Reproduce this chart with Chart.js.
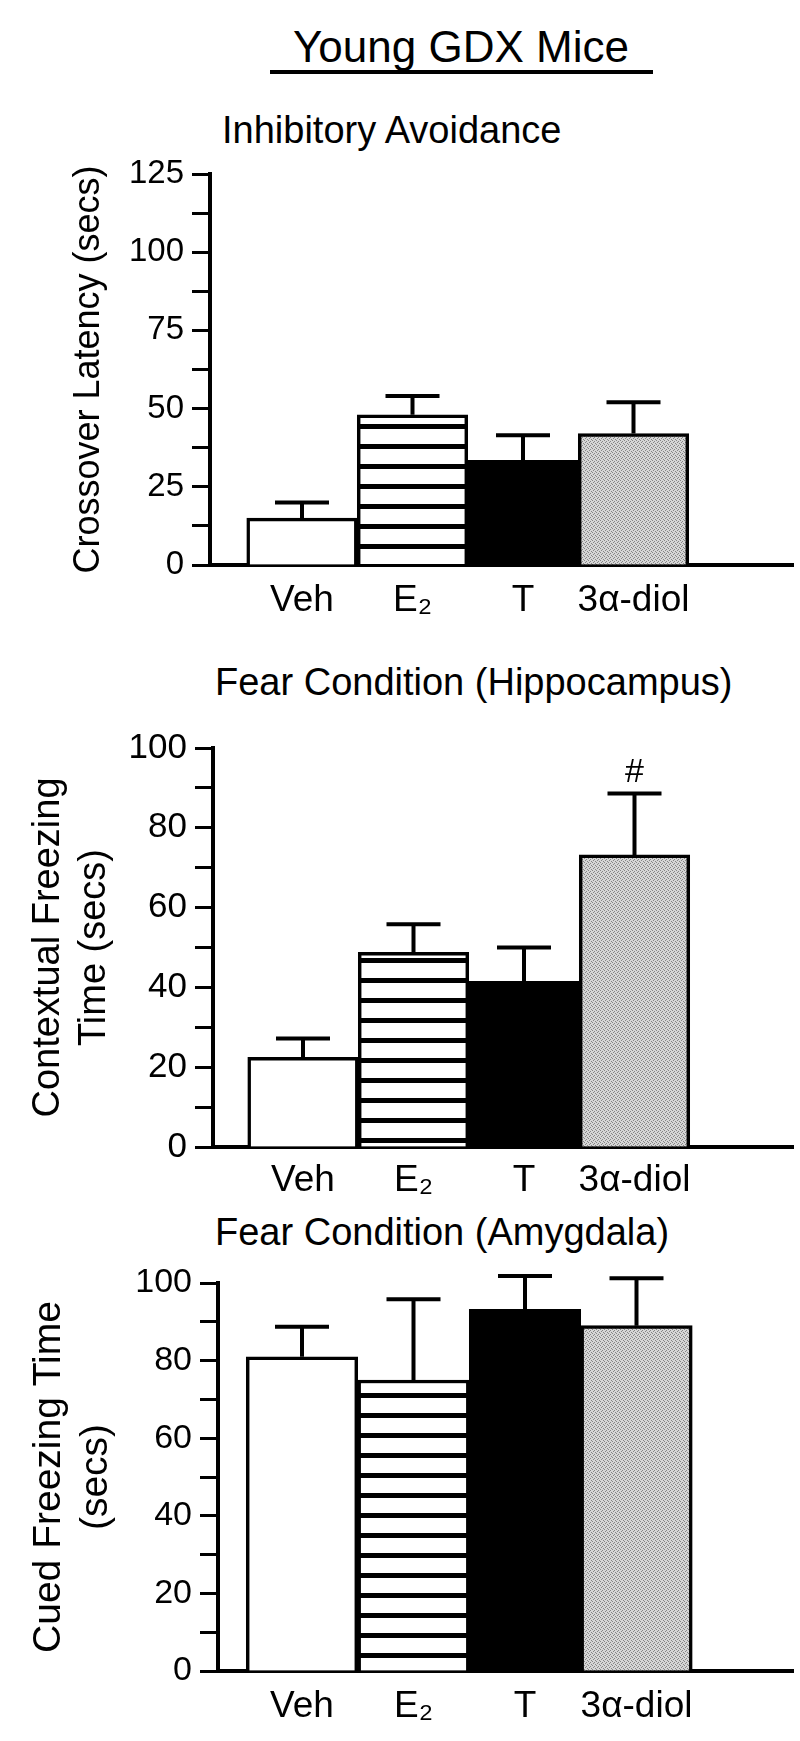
<!DOCTYPE html>
<html>
<head>
<meta charset="utf-8">
<script src="https://cdn.jsdelivr.net/npm/chart.js@4.4.1/dist/chart.umd.min.js"></script>
<style>
html,body{margin:0;padding:0;background:#fff;}
#page{position:relative;width:800px;height:1741px;overflow:hidden;background:#fff;
  font-family:"Liberation Sans",Arial,Helvetica,sans-serif;color:#000;}
.t{position:absolute;white-space:nowrap;line-height:1;}
canvas{position:absolute;left:0;}
</style>
</head>
<body>
<div id="page">
  <div class="t" style="left:261px;width:400px;text-align:center;top:25px;font-size:44px;">Young GDX Mice</div>
  <div style="position:absolute;left:270px;top:70px;width:383px;height:4px;background:#000;"></div>
  <div class="t" style="left:222px;top:111px;font-size:38px;">Inhibitory Avoidance</div>
  <div class="t" style="left:215px;top:663px;font-size:38px;">Fear Condition (Hippocampus)</div>
  <div class="t" style="left:215px;top:1213px;font-size:38px;">Fear Condition (Amygdala)</div>
  <canvas id="c1" width="800" height="491" style="top:144px;"></canvas>
  <canvas id="c2" width="800" height="499" style="top:718px;"></canvas>
  <canvas id="c3" width="800" height="488" style="top:1253px;"></canvas>
</div>
<script>
// ---- data ----
const categories = ['Veh', 'E\u2082', 'T', '3\u03b1-diol'];

const avoidanceMeans = [15, 48, 33.5, 42];
const avoidanceSEM   = [5, 6, 8, 10];
const avoidanceMarks = ['', '', '', ''];
const avoidanceTickLabels = [0, 25, 50, 75, 100, 125];

const contextualMeans = [22.5, 48.8, 41.5, 73.2];
const contextualSEM   = [4.7, 7, 8.5, 15.4];
const contextualMarks = ['', '', '', '#'];
const contextualTickLabels = [0, 20, 40, 60, 80, 100];

const cuedMeans = [81, 75, 93.2, 89];
const cuedSEM   = [7.7, 20.8, 8.6, 12.2];
const cuedMarks = ['', '', '', ''];
const cuedTickLabels = [0, 20, 40, 60, 80, 100];

// ---- styling helpers ----
const FONT = '"Liberation Sans", Arial, Helvetica, sans-serif';

function stripePattern() {
  const c = document.createElement('canvas');
  c.width = 8; c.height = 20;
  const g = c.getContext('2d');
  g.fillStyle = '#fff'; g.fillRect(0, 0, 8, 20);
  g.fillStyle = '#000'; g.fillRect(0, 0, 8, 5);
  return g.createPattern(c, 'repeat');
}
function stipplePattern() {
  const c = document.createElement('canvas');
  c.width = 4; c.height = 4;
  const g = c.getContext('2d');
  g.fillStyle = '#d6d6d6'; g.fillRect(0, 0, 4, 4);
  g.fillStyle = '#858585';
  [[0,0],[2,1],[1,2],[3,3]].forEach(([x,y]) => g.fillRect(x, y, 1, 1));
  return g.createPattern(c, 'repeat');
}

function errorPlugin(means, errs, marks) {
  return {
    id: 'errorBars',
    afterDatasetsDraw(chart) {
      const meta = chart.getDatasetMeta(0);
      const y = chart.scales.y;
      const c = chart.ctx;
      c.save();
      c.strokeStyle = '#000';
      c.lineWidth = 4;
      meta.data.forEach((bar, i) => {
        const top = y.getPixelForValue(means[i] + errs[i]);
        const base = y.getPixelForValue(means[i]);
        c.beginPath();
        c.moveTo(bar.x, base); c.lineTo(bar.x, top);
        c.moveTo(bar.x - 27, top); c.lineTo(bar.x + 27, top);
        c.stroke();
        if (marks[i]) {
          c.fillStyle = '#000';
          c.font = '34px ' + FONT;
          c.textAlign = 'center';
          c.textBaseline = 'bottom';
          c.fillText(marks[i], bar.x, top - 4);
        }
      });
      c.restore();
    }
  };
}

function makePanel(id, p) {
  const fills = ['#ffffff', stripePattern(), '#000000', stipplePattern()];
  const xMin = 1 - (p.firstCenter - p.axisX) / p.unit;
  const xMax = xMin + (793 - p.axisX) / p.unit;
  return new Chart(document.getElementById(id), {
    type: 'bar',
    data: {
      datasets: [{
        data: p.means.map((m, i) => ({ x: i + 1, y: m })),
        backgroundColor: fills,
        borderColor: '#000',
        borderWidth: 3.5,
        barPercentage: 1,
        categoryPercentage: 1
      }]
    },
    options: {
      responsive: false,
      animation: false,
      devicePixelRatio: 1,
      layout: { padding: { top: 30, right: 7, bottom: 0, left: 0 } },
      plugins: { legend: { display: false }, tooltip: { enabled: false }, title: { display: false } },
      scales: {
        x: {
          type: 'linear', min: xMin, max: xMax, offset: false,
          grid: { display: false, drawTicks: false, offset: false },
          border: { display: true, color: '#000', width: 4 },
          afterBuildTicks: s => { s.ticks = categories.map((c, i) => ({ value: i + 1 })); },
          afterFit: s => { s.height = 70; },
          ticks: {
            autoSkip: false, maxRotation: 0, minRotation: 0, padding: p.labelPad, color: '#000',
            font: { size: 37, family: FONT },
            callback: v => categories[Math.round(v) - 1] ?? ''
          }
        },
        y: {
          min: 0, max: p.yMax,
          grid: { display: true, drawOnChartArea: false, drawTicks: true, tickLength: 18, tickWidth: 3, color: '#000' },
          border: { display: true, color: '#000', width: 4 },
          afterFit: s => { s.width = p.axisX; },
          ticks: {
            stepSize: p.step, autoSkip: false, padding: 8, color: '#000',
            font: { size: p.tickFont, family: FONT },
            callback: v => p.tickLabels.includes(v) ? String(v) : ''
          },
          title: {
            display: true, text: p.yTitle, color: '#000',
            font: { size: p.titleFont, family: FONT, lineHeight: 1.2 },
            padding: { top: p.titlePad, bottom: 0 }
          }
        }
      }
    },
    plugins: [errorPlugin(p.means, p.errs, p.marks)]
  });
}

makePanel('c1', {
  means: avoidanceMeans, errs: avoidanceSEM, marks: avoidanceMarks, tickLabels: avoidanceTickLabels,
  yMax: 125, step: 12.5, yTitle: 'Crossover Latency (secs)', titlePad: 67, titleFont: 36, tickFont: 33,
  axisX: 210, firstCenter: 302, unit: 110.5, labelPad: 14
});
makePanel('c2', {
  means: contextualMeans, errs: contextualSEM, marks: contextualMarks, tickLabels: contextualTickLabels,
  yMax: 100, step: 10, yTitle: ['Contextual Freezing', 'Time (secs)'], titlePad: 26, titleFont: 38, tickFont: 35,
  axisX: 213, firstCenter: 303, unit: 110.5, labelPad: 12
});
makePanel('c3', {
  means: cuedMeans, errs: cuedSEM, marks: cuedMarks, tickLabels: cuedTickLabels,
  yMax: 100, step: 10, yTitle: ['Cued Freezing Time', '(secs)'], titlePad: 26, titleFont: 39, tickFont: 34,
  axisX: 218, firstCenter: 302, unit: 111.5, labelPad: 14
});
</script>
</body>
</html>
